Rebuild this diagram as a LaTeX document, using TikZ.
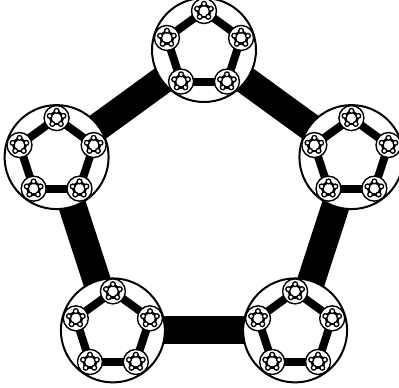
\documentclass[tikz,border=0pt]{standalone}
\usetikzlibrary{calc}
\tikzset{
  ringA/.style={circle,draw=black,fill=white,line width=2pt,minimum size=104pt,inner sep=0pt},
  ringB/.style={circle,draw=black,fill=white,line width=1.4pt,minimum size=25pt,inner sep=0pt},
  ringC/.style={circle,draw=black,fill=white,line width=1.3pt,minimum size=4.8pt,inner sep=0pt},
  barA/.style={line width=28pt,draw=black},
  barB/.style={line width=8pt,draw=black},
  barC/.style={line width=2.6pt,draw=black}
}
\begin{document}
\begin{tikzpicture}[x=1pt,y=1pt]
\useasboundingbox (0,-388) rectangle (399,0);
\coordinate (C) at (204,-205);
\foreach \i in {0,...,4} \path (C) ++({90+72*\i}:155) coordinate (p\i);
\foreach \i [evaluate=\i as \j using {int(mod(\i+1,5))}] in {0,...,4}
  \draw[barA] (p\i) -- (p\j);
\foreach \i in {0,...,4} {
  \node[ringA] (n\i) at (p\i) {};
  \foreach \k in {0,...,4} \path (n\i.center) ++({90+72*\k}:39) coordinate (p\i-\k);
  \foreach \k [evaluate=\k as \l using {int(mod(\k+1,5))}] in {0,...,4}
    \draw[barB] (p\i-\k) -- (p\i-\l);
  \foreach \k in {0,...,4} {
    \node[ringB] (n\i-\k) at (p\i-\k) {};
    \foreach \m in {0,...,4} \path (n\i-\k.center) ++({90+72*\m}:7.2) coordinate (p\i-\k-\m);
    \foreach \m [evaluate=\m as \q using {int(mod(\m+1,5))}] in {0,...,4}
      \draw[barC] (p\i-\k-\m) -- (p\i-\k-\q);
    \foreach \m in {0,...,4} \node[ringC] (n\i-\k-\m) at (p\i-\k-\m) {};
  }
}
\end{tikzpicture}
\end{document}
